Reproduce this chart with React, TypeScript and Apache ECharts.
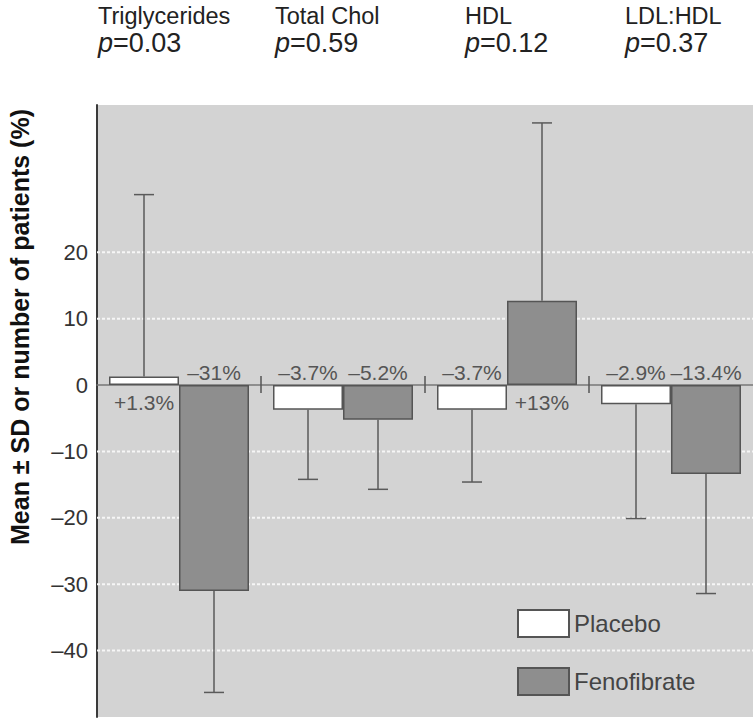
import React, { useEffect, useRef } from "react";
import * as echarts from "echarts";

// ---- data ----
const categories = ["Triglycerides", "Total Chol", "HDL", "LDL:HDL"];
const pValues = ["0.03", "0.59", "0.12", "0.37"];
const seriesNames = ["Placebo", "Fenofibrate"];
const placeboMeans = [1.3, -3.7, -3.7, -2.9];
const fenofibrateMeans = [-31, -5.2, 12.7, -13.4];
const placeboErrorEnds = [28.7, -14.2, -14.6, -20.1];
const fenofibrateErrorEnds = [-46.3, -15.7, 39.5, -31.4];
const placeboLabels = ["+1.3%", "–3.7%", "–3.7%", "–2.9%"];
const fenofibrateLabels = ["–31%", "–5.2%", "+13%", "–13.4%"];
const yTickLabels = [20, 10, 0, -10, -20, -30, -40];
const gridValues = [20, 10, -10, -20, -30, -40];
const yAxisTitle = "Mean ± SD or number of patients (%)";

// ---- layout / style ----
const FONT = "'Liberation Sans', Arial, sans-serif";
const headerX = [98, 275, 465, 625];
const BAR_W = 70;
const CAP = 10;
const ERR_COLOR = "#5a5a5a";

export default function App() {
  const ref = useRef<HTMLDivElement>(null);

  useEffect(() => {
    if (!ref.current) return;
    const chart = echarts.init(ref.current, null, { renderer: "svg" });

    const errSeries = (name: string, means: number[], ends: number[], labels: string[], offset: number) => ({
      name,
      type: "custom",
      z: 4,
      silent: true,
      encode: { x: 0, y: [1, 2] },
      data: means.map((m, i) => [i, m, ends[i], i]),
      renderItem: (params: any, api: any) => {
        const i = api.value(0);
        const m = api.value(1);
        const e = api.value(2);
        const p0 = api.coord([i, m]);
        const p1 = api.coord([i, e]);
        const pz = api.coord([i, 0]);
        const x = p0[0] + offset;
        const st = { stroke: ERR_COLOR, lineWidth: 1.5 };
        return {
          type: "group",
          children: [
            { type: "line", shape: { x1: x, y1: p0[1], x2: x, y2: p1[1] }, style: st },
            { type: "line", shape: { x1: x - CAP, y1: p1[1], x2: x + CAP, y2: p1[1] }, style: st },
            {
              type: "text",
              x,
              y: m >= 0 ? pz[1] + 17 : pz[1] - 13,
              style: {
                text: labels[i],
                align: "center",
                verticalAlign: "middle",
                fontSize: 21,
                fontFamily: FONT,
                fill: "#555",
              },
            },
          ],
        };
      },
    });

    const header: any[] = [];
    categories.forEach((c, i) => {
      header.push({
        type: "text",
        x: headerX[i],
        y: 15.5,
        style: {
          text: c,
          fontSize: 23.5,
          fontFamily: FONT,
          fill: "#222",
          align: "left",
          verticalAlign: "middle",
        },
      });
      header.push({
        type: "text",
        x: headerX[i],
        y: 43,
        style: {
          text: `{i|p}{n|=${pValues[i]}}`,
          align: "left",
          verticalAlign: "middle",
          rich: {
            i: { fontSize: 27, fontStyle: "italic", fontFamily: FONT, fill: "#222" },
            n: { fontSize: 27, fontFamily: FONT, fill: "#222" },
          },
        },
      });
    });

    const option: any = {
      animation: false,
      backgroundColor: "#ffffff",
      grid: {
        left: 97,
        top: 105,
        width: 660,
        height: 612,
        show: true,
        backgroundColor: "#d3d3d3",
        borderWidth: 0,
      },
      legend: {
        data: seriesNames,
        orient: "vertical",
        left: 512,
        top: 604,
        itemWidth: 51,
        itemHeight: 27,
        itemGap: 29,
        icon: "rect",
        textStyle: { fontSize: 24, color: "#444", fontFamily: FONT },
      },
      xAxis: {
        type: "category",
        data: categories,
        axisLine: { onZero: true, lineStyle: { color: "#777", width: 1.5 } },
        axisTick: { show: false },
        axisLabel: { show: false },
        splitLine: { show: false },
      },
      yAxis: {
        type: "value",
        min: -50,
        max: 42.2,
        interval: 10,
        axisLine: { show: true, lineStyle: { color: "#3a3a3a", width: 2 } },
        axisTick: { show: false },
        splitLine: { show: false },
        axisLabel: {
          margin: 9,
          fontSize: 22,
          color: "#333",
          fontFamily: FONT,
          formatter: (v: number) => (yTickLabels.includes(v) ? String(v).replace("-", "–") : ""),
        },
      },
      graphic: [
        ...header,
        {
          type: "text",
          x: 20,
          y: 327,
          rotation: Math.PI / 2,
          style: {
            text: yAxisTitle,
            fontSize: 25,
            fontWeight: "bold",
            fontFamily: FONT,
            fill: "#111",
            align: "center",
            verticalAlign: "middle",
          },
        },
      ],
      series: [
        {
          name: "grid",
          type: "custom",
          z: 1,
          silent: true,
          encode: { x: 0, y: 1 },
          data: gridValues.map((v) => [0, v]),
          renderItem: (params: any, api: any) => {
            const cs = params.coordSys;
            const y = api.coord([0, api.value(1)])[1];
            return {
              type: "line",
              shape: { x1: cs.x, y1: y, x2: cs.x + cs.width, y2: y },
              style: { stroke: "#f6f6f6", lineWidth: 2, lineDash: [3, 2] },
            };
          },
        },
        {
          name: "boundaryTicks",
          type: "custom",
          z: 3,
          silent: true,
          encode: { x: 0, y: 1 },
          data: categories.slice(1).map((c, k) => [k + 1, 0]),
          renderItem: (params: any, api: any) => {
            const p = api.coord([api.value(0), 0]);
            const band = api.size([1, 0])[0];
            const x = p[0] - band / 2;
            return {
              type: "line",
              shape: { x1: x, y1: p[1] - 9, x2: x, y2: p[1] + 8 },
              style: { stroke: "#555", lineWidth: 1.5 },
            };
          },
        },
        {
          name: seriesNames[0],
          type: "bar",
          z: 2,
          barWidth: BAR_W,
          barGap: "0%",
          data: placeboMeans,
          itemStyle: { color: "#ffffff", borderColor: "#555", borderWidth: 1.5 },
        },
        {
          name: seriesNames[1],
          type: "bar",
          z: 2,
          barWidth: BAR_W,
          barGap: "0%",
          data: fenofibrateMeans,
          itemStyle: { color: "#8e8e8e", borderColor: "#555", borderWidth: 1.5 },
        },
        errSeries("placeboErr", placeboMeans, placeboErrorEnds, placeboLabels, -BAR_W / 2),
        errSeries("fenofibrateErr", fenofibrateMeans, fenofibrateErrorEnds, fenofibrateLabels, BAR_W / 2),
      ],
    };

    chart.setOption(option);
    return () => chart.dispose();
  }, []);

  return (
    <div
      ref={ref}
      style={{ position: "absolute", left: 0, top: 0, width: 753, height: 719, background: "#fff" }}
    />
  );
}
